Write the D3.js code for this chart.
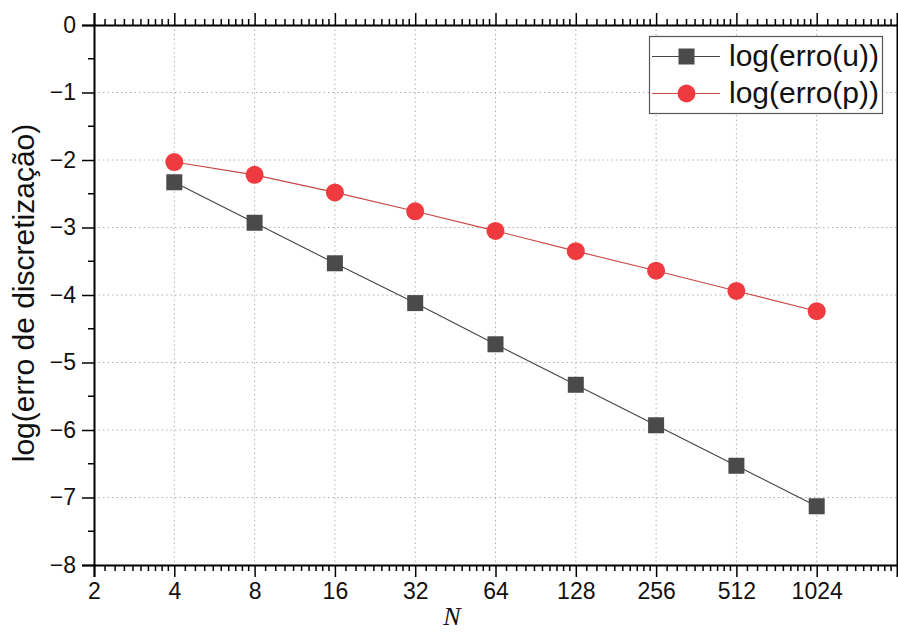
<!DOCTYPE html>
<html><head><meta charset="utf-8">
<script src="https://cdn.jsdelivr.net/npm/d3@7"></script>
<style>body{margin:0;background:#fff}svg{display:block}</style>
</head><body>
<svg id="c" width="898" height="633"></svg>
<script>
const N = [4, 8, 16, 32, 64, 128, 256, 512, 1024];
const errU = [-2.33, -2.93, -3.53, -4.12, -4.73, -5.33, -5.93, -6.53, -7.13];
const errP = [-2.03, -2.22, -2.48, -2.76, -3.05, -3.35, -3.64, -3.94, -4.24];
const xTicks = [2, 4, 8, 16, 32, 64, 128, 256, 512, 1024];
const yTicks = [0, -1, -2, -3, -4, -5, -6, -7, -8];
const seriesNames = ["log(erro(u))", "log(erro(p))"];

const svg = d3.select("#c");
const L = 94, R = 897, T = 25, B = 565;
const x = d3.scaleLog().base(2).domain([2, 2048]).range([L, R]);
const y = d3.scaleLinear().domain([-8, 0]).range([B, T]);
const font = "'Liberation Sans', Arial, sans-serif";

// grid
const g = svg.append("g");
g.selectAll("line.gx").data(xTicks.slice(1)).enter().append("line")
  .attr("x1", d => x(d)).attr("x2", d => x(d)).attr("y1", T).attr("y2", B)
  .attr("stroke", "#b0b0b0").attr("stroke-width", 1).attr("stroke-dasharray", "1.5,3");
g.selectAll("line.gy").data(yTicks.slice(1, -1)).enter().append("line")
  .attr("y1", d => y(d)).attr("y2", d => y(d)).attr("x1", L).attr("x2", R)
  .attr("stroke", "#b0b0b0").attr("stroke-width", 1).attr("stroke-dasharray", "1.5,3");

// minor ticks
const xMinor = [];
for (let k = 1; k <= 10; k++) { const b = Math.pow(2, k); for (let i = 1; i <= 9; i++) xMinor.push(b * (1 + i / 10)); }
const yMinor = d3.range(-7.5, 0, 1);

// bottom axis
const ax = d3.axisBottom(x).tickValues(xTicks).tickFormat(d3.format("d")).tickSize(12).tickPadding(6);
const bx = svg.append("g").attr("transform", `translate(0,${B})`).call(ax);
bx.append("g").selectAll("line").data(xMinor).enter().append("line")
  .attr("x1", d => x(d)).attr("x2", d => x(d)).attr("y1", 0).attr("y2", 6).attr("stroke", "#000").attr("stroke-width", 1.5);
// top axis
const tx = svg.append("g").attr("transform", `translate(0,${T})`)
  .call(d3.axisTop(x).tickValues(xTicks).tickFormat("").tickSize(12));
tx.append("g").selectAll("line").data(xMinor).enter().append("line")
  .attr("x1", d => x(d)).attr("x2", d => x(d)).attr("y1", 0).attr("y2", -6).attr("stroke", "#000").attr("stroke-width", 1.5);
// left axis
const ay = d3.axisLeft(y).tickValues(yTicks).tickFormat(d => d === 0 ? "0" : "\u2212" + Math.abs(d)).tickSize(12).tickPadding(6);
const ly = svg.append("g").attr("transform", `translate(${L},0)`).call(ay);
ly.append("g").selectAll("line").data(yMinor).enter().append("line")
  .attr("y1", d => y(d)).attr("y2", d => y(d)).attr("x1", 0).attr("x2", -6).attr("stroke", "#000").attr("stroke-width", 1.5);
// right spine
svg.append("g").attr("transform", `translate(${R},0)`)
  .call(d3.axisRight(y).tickValues(yTicks).tickFormat("").tickSize(12));

[bx, tx, ly].forEach(a => {
  a.selectAll(".domain").attr("stroke", "#000").attr("stroke-width", 2);
  a.selectAll(".tick line").attr("stroke", "#000").attr("stroke-width", 1.5);
  a.selectAll(".tick text").attr("font-family", font).attr("font-size", 23).attr("fill", "#111");
});
svg.selectAll("path.domain").attr("stroke", "#000").attr("stroke-width", 2);

// axis titles
svg.append("text").attr("transform", "translate(34,293) rotate(-90)")
  .attr("text-anchor", "middle").attr("font-family", font).attr("font-size", 30).attr("fill", "#111")
  .text("log(erro de discretização)");
svg.append("text").attr("x", 452).attr("y", 625).attr("text-anchor", "middle")
  .attr("font-family", "'Liberation Serif', 'Times New Roman', serif").attr("font-style", "italic")
  .attr("font-size", 26).attr("fill", "#111").text("N");

// series
const dataU = N.map((n, i) => [n, errU[i]]);
const dataP = N.map((n, i) => [n, errP[i]]);
const line = d3.line().x(d => x(d[0])).y(d => y(d[1]));
svg.append("path").datum(dataU).attr("d", line).attr("fill", "none").attr("stroke", "#444").attr("stroke-width", 1.1);
svg.append("path").datum(dataP).attr("d", line).attr("fill", "none").attr("stroke", "#c84646").attr("stroke-width", 1.1);
svg.selectAll("rect.mu").data(dataU).enter().append("rect")
  .attr("x", d => x(d[0]) - 8).attr("y", d => y(d[1]) - 8).attr("width", 16).attr("height", 16).attr("fill", "#4a4a4a");
svg.selectAll("circle.mp").data(dataP).enter().append("circle")
  .attr("cx", d => x(d[0])).attr("cy", d => y(d[1])).attr("r", 9).attr("fill", "#ef3b3f");

// legend
const lg = svg.append("g");
lg.append("rect").attr("x", 649.5).attr("y", 36.5).attr("width", 233).attr("height", 77)
  .attr("fill", "#fff").attr("stroke", "#555").attr("stroke-width", 1.2);
const rows = [56.5, 93.5];
lg.append("line").attr("x1", 652).attr("x2", 720).attr("y1", rows[0]).attr("y2", rows[0]).attr("stroke", "#444").attr("stroke-width", 1.1);
lg.append("rect").attr("x", 678.5).attr("y", rows[0] - 8).attr("width", 16).attr("height", 16).attr("fill", "#4a4a4a");
lg.append("line").attr("x1", 652).attr("x2", 720).attr("y1", rows[1]).attr("y2", rows[1]).attr("stroke", "#c84646").attr("stroke-width", 1.1);
lg.append("circle").attr("cx", 686.5).attr("cy", rows[1]).attr("r", 9).attr("fill", "#ef3b3f");
lg.selectAll("text").data(seriesNames).enter().append("text")
  .attr("x", 729).attr("y", (d, i) => rows[i] + 9)
  .attr("font-family", font).attr("font-size", 30).attr("fill", "#111").text(d => d);
</script>
</body></html>
